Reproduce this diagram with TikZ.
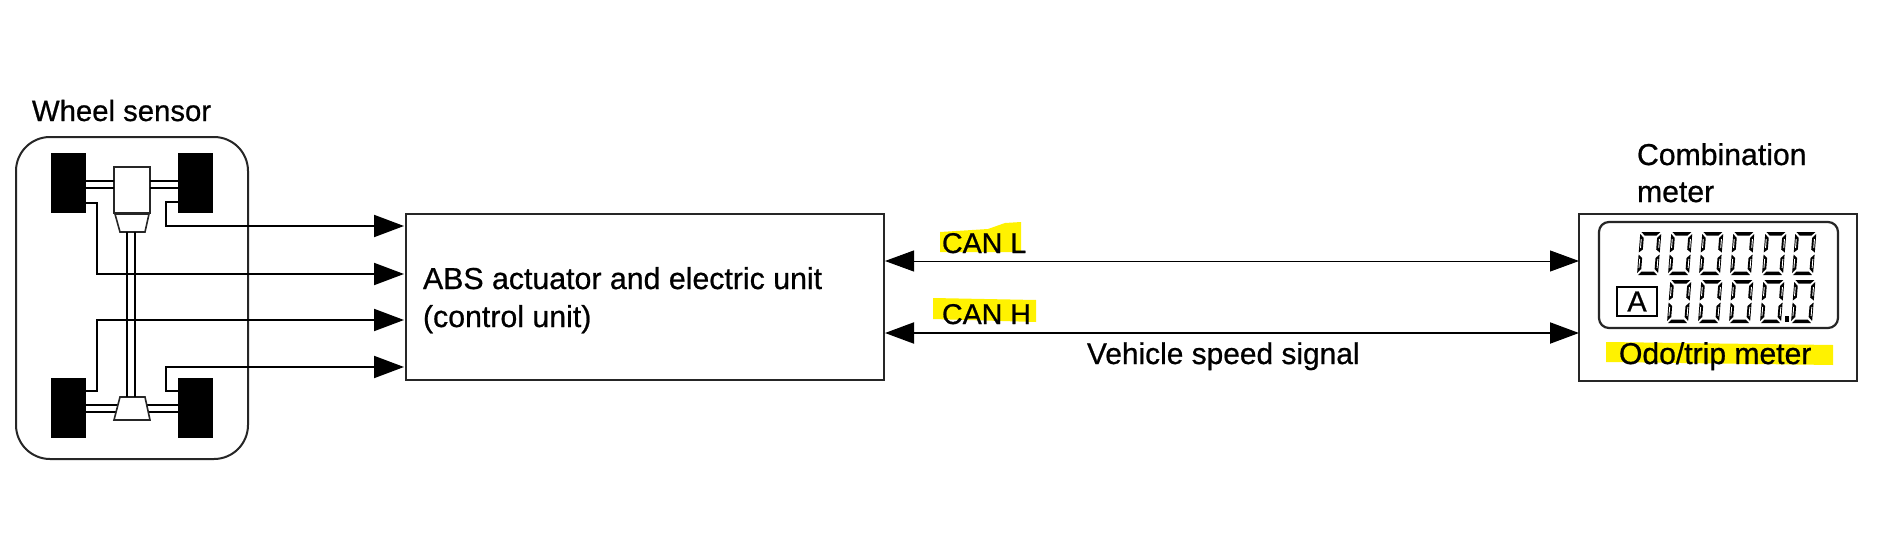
\documentclass[tikz,border=0pt]{standalone}
\usepackage{fontspec}
\setmainfont[FakeBold=0.7]{Liberation Sans}
\usetikzlibrary{arrows.meta}
\tikzset{
  lbl/.style={anchor=base west,inner sep=0pt,outer sep=0pt,text=black},
  wheel/.style={fill=black,draw=none,minimum width=35pt,minimum height=60pt,inner sep=0pt,outer sep=0pt},
  boxy/.style={draw=black!85,line width=2pt,inner sep=0pt,outer sep=0pt},
  sig/.style={line width=2pt,black,line join=miter,-{Triangle[length=30pt,width=22pt]},shorten >=2pt},
  busarrow/.style={{Triangle[length=29pt,width=21pt]}-{Triangle[length=29pt,width=21pt]},shorten <=1pt,shorten >=0pt,black},
  part/.style={draw=black!85,line width=1.6pt,fill=white},
  axle/.style={draw=black,line width=2pt},
  hl/.style={fill=yellow,draw=none},
  seg/.style={fill=black,draw=none},
  sliver/.style={draw=white,line width=0.9pt}
}
\newcommand{\lcdzero}[2]{%
  \begin{scope}[shift={(#1+3.4,#2)},xslant=0.08]
    \fill[seg] (1,0) -- (20,0) -- (16.5,3.5) -- (4.5,3.5) -- cycle;
    \fill[seg] (1,43) -- (20,43) -- (16.5,39.5) -- (4.5,39.5) -- cycle;
    \fill[seg] (0,2) -- (3.8,6) -- (3.8,17.5) -- (0,20.5) -- cycle;
    \fill[seg] (21,2) -- (17.2,6) -- (17.2,17.5) -- (21,20.5) -- cycle;
    \fill[seg] (0,22.5) -- (3.8,26) -- (3.8,37) -- (0,41) -- cycle;
    \fill[seg] (21,22.5) -- (17.2,26) -- (17.2,37) -- (21,41) -- cycle;
    \draw[sliver] (1.4,7) -- (1.4,16) (19.6,7) -- (19.6,16) (1.4,27) -- (1.4,36) (19.6,27) -- (19.6,36);
  \end{scope}}
\begin{document}
\begin{tikzpicture}[x=1pt,y=-1pt]
\useasboundingbox[fill=white] (0,0) rectangle (1896,538);
% highlights
\fill[hl] (940,232) -- (988,229) -- (1005,223) -- (1021,222) -- (1021,252) -- (940,252) -- cycle;
\fill[hl] (933,298) -- (1036,300) -- (1036,322) -- (933,319) -- cycle;
\fill[hl] (1606,342) -- (1833,345) -- (1833,365) -- (1606,362) -- cycle;
% main boxes
\node[boxy,minimum width=232pt,minimum height=322pt,rounded corners=34pt] (car) at (132,298) {};
\node[boxy,minimum width=478pt,minimum height=166pt] (abs) at (645,297) {};
\node[boxy,minimum width=278pt,minimum height=167pt] (meter) at (1718,297.5) {};
% wheels
\node[wheel] (wtl) at (68.5,183) {};
\node[wheel] (wtr) at (195.5,183) {};
\node[wheel] (wbl) at (68.5,408) {};
\node[wheel] (wbr) at (195.5,408) {};
% axles and drive train
\node[part,minimum width=36pt,minimum height=46pt,inner sep=0pt,outer sep=0pt] (engine) at (132,190) {};
\draw[axle] (wtl.east |- 0,181) -- (engine.west |- 0,181);
\draw[axle] (wtl.east |- 0,188) -- (engine.west |- 0,188);
\draw[axle] (engine.east |- 0,181) -- (wtr.west |- 0,181);
\draw[axle] (engine.east |- 0,188) -- (wtr.west |- 0,188);
\draw[part] (115,214) -- (149,214) -- (145,232) -- (120,232) -- cycle;
\draw[axle] (wbl.east |- 0,405) -- (118,405);
\draw[axle] (wbl.east |- 0,412) -- (116,412);
\draw[axle] (147,405) -- (wbr.west |- 0,405);
\draw[axle] (149,412) -- (wbr.west |- 0,412);
\draw[part] (120,397) -- (145,397) -- (150,420) -- (114,420) -- cycle;
\draw[axle] (127,232) -- (127,397);
\draw[axle] (135,232) -- (135,397);
% sensor signals
\draw[sig] (wtr.west |- 0,202) -- (166,202) -- (166,226) -- (abs.west |- 0,226);
\draw[sig] (wtl.east |- 0,203) -- (97,203) -- (97,274) -- (abs.west |- 0,274);
\draw[sig] (wbl.east |- 0,391) -- (97,391) -- (97,320) -- (abs.west |- 0,320);
\draw[sig] (wbr.west |- 0,391) -- (166,391) -- (166,367) -- (abs.west |- 0,367);
% buses
\draw[busarrow,line width=1pt] (abs.east |- 0,261) -- (meter.west |- 0,261);
\draw[busarrow,line width=2pt] (abs.east |- 0,333) -- (meter.west |- 0,333);
% meter details
\node[draw=black!85,line width=2.2pt,rounded corners=10pt,minimum width=239pt,minimum height=106pt,inner sep=0pt] (lcd) at (1718.5,275) {};
\node[draw=black,line width=2.4pt,minimum width=40pt,minimum height=29pt,inner sep=0pt] (abox) at (1637,301.5) {\fontsize{29}{29}\selectfont A};
\lcdzero{1637}{232}\lcdzero{1668}{232}\lcdzero{1699}{232}\lcdzero{1730}{232}\lcdzero{1762}{232}\lcdzero{1792}{232}
\lcdzero{1667}{280}\lcdzero{1698}{280}\lcdzero{1729}{280}\lcdzero{1760}{280}\lcdzero{1791}{280}
\fill[black] (1785,316) rectangle (1789,322);
% text
\node[lbl,font=\fontsize{29.3}{30}\selectfont] (t1) at (32,121) {Wheel sensor};
\node[lbl,font=\fontsize{30.3}{30}\selectfont] (t2) at (423,289) {ABS actuator and electric unit};
\node[lbl,font=\fontsize{30.3}{30}\selectfont] (t3) at (423,327) {(control unit)};
\node[lbl,font=\fontsize{28.6}{30}\selectfont] (t4) at (942,253) {CAN L};
\node[lbl,font=\fontsize{28.6}{30}\selectfont] (t5) at (942,324) {CAN H};
\node[lbl,font=\fontsize{29.9}{30}\selectfont] (t6) at (1087,364) {Vehicle speed signal};
\node[lbl,font=\fontsize{30.2}{30}\selectfont] (t7) at (1637,165) {Combination};
\node[lbl,font=\fontsize{30.2}{30}\selectfont] (t8) at (1637,202) {meter};
\node[lbl,font=\fontsize{30.1}{30}\selectfont] (t9) at (1619,364) {Odo/trip meter};
\end{tikzpicture}
\end{document}
